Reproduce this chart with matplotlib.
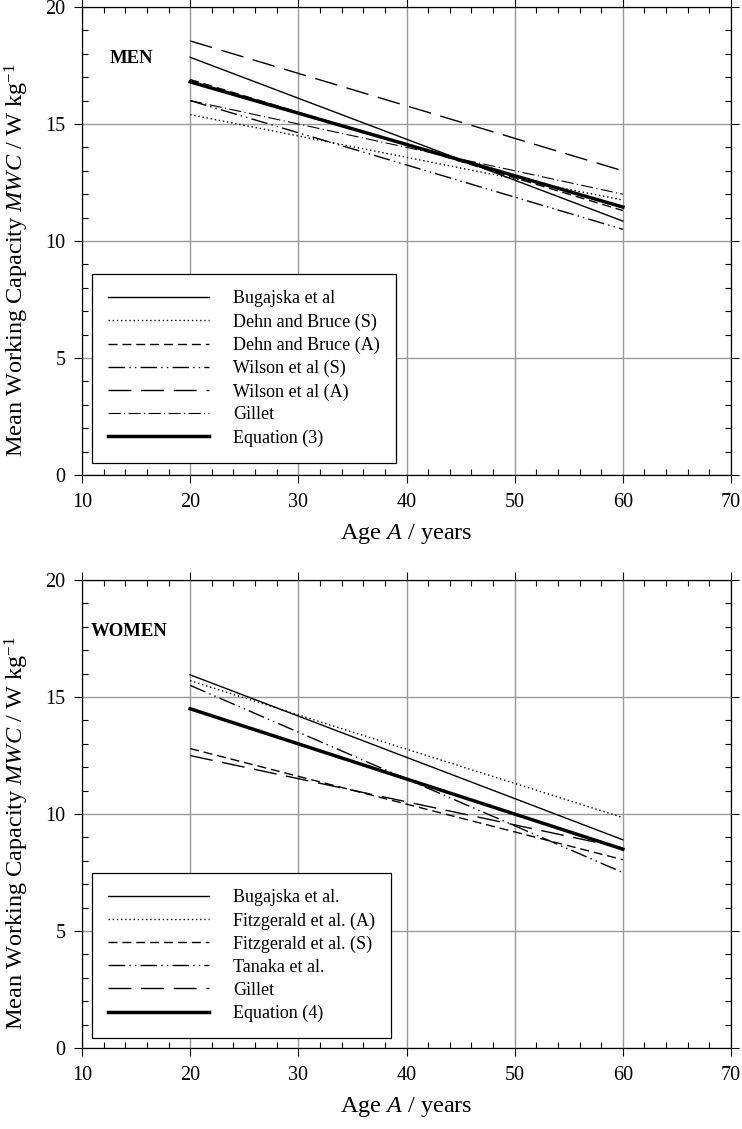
import numpy as np
import matplotlib
matplotlib.use("Agg")
import matplotlib.pyplot as plt
from matplotlib.ticker import MultipleLocator

plt.rcParams['font.family'] = ['Liberation Serif', 'DejaVu Serif']
plt.rcParams['mathtext.fontset'] = 'custom'
plt.rcParams['mathtext.rm'] = 'Liberation Serif'
plt.rcParams['mathtext.it'] = 'Liberation Serif:italic'

# age range of every line
age = [20, 60]

# men: MWC at age 20 and age 60
men_labels = ['Bugajska et al', 'Dehn and Bruce (S)', 'Dehn and Bruce (A)',
              'Wilson et al (S)', 'Wilson et al (A)', 'Gillet', 'Equation (3)']
men_bugajska = [17.85, 10.85]
men_dehn_s = [15.4, 11.75]
men_dehn_a = [16.9, 11.3]
men_wilson_s = [16.0, 10.5]
men_wilson_a = [18.55, 13.0]
men_gillet = [16.0, 12.0]
men_eq3 = [16.8, 11.45]

# women: MWC at age 20 and age 60
women_labels = ['Bugajska et al.', 'Fitzgerald et al. (A)', 'Fitzgerald et al. (S)',
                'Tanaka et al.', 'Gillet', 'Equation (4)']
women_bugajska = [15.95, 8.9]
women_fitz_a = [15.7, 9.85]
women_fitz_s = [12.8, 8.05]
women_tanaka = [15.5, 7.5]
women_gillet = [12.5, 8.55]
women_eq4 = [14.5, 8.5]

# line styles (thin lines unless noted)
solid = dict(ls='-', lw=1.0)
dotted = dict(ls=(0, (1, 2)), lw=1.0)
dashed = dict(ls=(0, (6.5, 3.5)), lw=1.0)
dashdotdot = dict(ls=(0, (12, 3, 1, 3, 1, 3)), lw=1.0)
longdash = dict(ls=(0, (16.5, 7)), lw=1.0)
dashdot = dict(ls=(0, (11, 3, 1, 3)), lw=0.8)
thick = dict(ls='-', lw=2.5)

fig = plt.figure(figsize=(7.42, 11.29), dpi=100)
ax1 = fig.add_axes([0.1105, 0.5793, 0.8747, 0.4145])
ax2 = fig.add_axes([0.1105, 0.0717, 0.8747, 0.4145])


def style_axes(ax):
    ax.set_xlim(10, 70)
    ax.set_ylim(0, 20)
    ax.xaxis.set_major_locator(MultipleLocator(10))
    ax.xaxis.set_minor_locator(MultipleLocator(2))
    ax.yaxis.set_major_locator(MultipleLocator(5))
    ax.yaxis.set_minor_locator(MultipleLocator(1))
    ax.grid(True, which='major', color='#9a9a9a', lw=1.0)
    ax.set_axisbelow(True)
    ax.tick_params(which='major', direction='out', length=6, width=0.8,
                   top=True, right=True, labelsize=14.5)
    ax.tick_params(axis='x', which='major', pad=7)
    ax.tick_params(axis='y', which='major', pad=6)
    ax.tick_params(which='minor', direction='in', length=4, width=0.8,
                   top=True, right=True)
    for s in ax.spines.values():
        s.set_linewidth(0.9)
    ax.set_xlabel('Age $\\it{A}$ / years', fontsize=17.5, labelpad=7)
    ax.set_ylabel('Mean Working Capacity $\\it{MWC}$ / W kg$^{-1}$',
                  fontsize=17.5)
    ax.yaxis.set_label_coords(-0.079, 0.46)


c = 'black'
men_series = [men_bugajska, men_dehn_s, men_dehn_a, men_wilson_s,
              men_wilson_a, men_gillet, men_eq3]
men_styles = [solid, dotted, dashed, dashdotdot, longdash, dashdot, thick]
for vals, st, lab in zip(men_series, men_styles, men_labels):
    ax1.plot(age, vals, color=c, label=lab, **st)

women_series = [women_bugajska, women_fitz_a, women_fitz_s, women_tanaka,
                women_gillet, women_eq4]
women_styles = [solid, dotted, dashed, dashdotdot, longdash, thick]
for vals, st, lab in zip(women_series, women_styles, women_labels):
    ax2.plot(age, vals, color=c, label=lab, **st)

for ax, title, ly in [(ax1, 'MEN', 0.0256), (ax2, 'WOMEN', 0.021)]:
    style_axes(ax)
    leg = ax.legend(loc='lower left', bbox_to_anchor=(0.0154, ly),
                    borderaxespad=0, fontsize=13, handlelength=5.6,
                    handletextpad=1.3, labelspacing=0.33, fancybox=False,
                    framealpha=1, edgecolor='black', borderpad=0.9)
    leg.get_frame().set_linewidth(0.9)

ax1.text(12.6, 17.8, 'MEN', fontsize=13.5, fontweight='bold', va='center')
ax2.text(10.8, 17.8, 'WOMEN', fontsize=13.5, fontweight='bold', va='center')

fig.savefig('out.png', dpi=100)
